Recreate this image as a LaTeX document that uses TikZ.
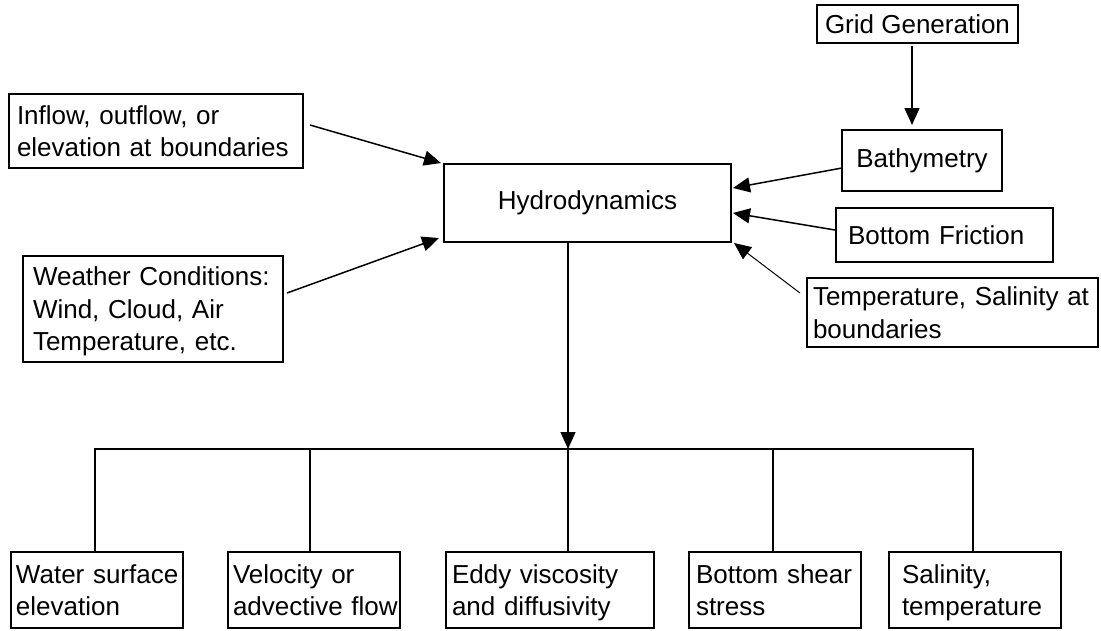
\documentclass[tikz,border=0pt]{standalone}
\usepackage{fontspec}
\setmainfont{Liberation Sans}
\usetikzlibrary{arrows.meta}
\begin{document}
\begin{tikzpicture}[x=1pt,y=-1pt,
  every node/.style={font=\fontsize{26}{32.5}\selectfont},
  box/.style={draw, line width=1.5pt, anchor=north west, inner ysep=0pt, outer sep=0pt},
  lbox/.style={box, align=left},
  cbox/.style={box, align=center, inner xsep=0pt},
  link/.style={line width=1.5pt},
  arr/.style={line width=1.5pt, -{Triangle[length=17pt,width=15pt]}},
  thinarr/.style={line width=1pt, -{Triangle[length=17pt,width=15pt]}}]
\fill[white] (0,0) rectangle (1101,630);
\useasboundingbox (0,0) rectangle (1101,630);

% top input boxes
\node[cbox, minimum width=201pt, minimum height=38pt] (grid) at (817,5) {Grid Generation};
\node[cbox, minimum width=160pt, minimum height=61pt] (bathy) at (842,130) {Bathymetry};
\node[lbox, inner xsep=12pt, text width=193pt, minimum width=217pt, minimum height=54pt] (fric) at (836,208) {Bottom Friction};
\node[lbox, inner xsep=6pt, text width=279pt, minimum width=291pt, minimum height=69pt] (temp) at (807,278) {\mbox{Temperature, Salinity at}\\boundaries};
\node[lbox, inner xsep=8pt, text width=278pt, minimum width=294pt, minimum height=74pt] (inflow) at (9,94) {Inflow, outflow, or\\\mbox{elevation at boundaries}};
\node[lbox, inner xsep=10pt, text width=240pt, minimum width=260pt, minimum height=106pt] (weather) at (23,256) {\mbox{Weather Conditions:}\\Wind, Cloud, Air\\\smash{Temperature, etc.}};

% central box
\node[cbox, minimum width=287pt, minimum height=78pt] (hydro) at (444,164) {Hydrodynamics};

% output boxes
\node[lbox, inner xsep=5pt, text width=162pt, minimum width=172pt, minimum height=76pt] (wse) at (11,552) {\mbox{Water surface}\\elevation};
\node[lbox, inner xsep=5pt, text width=162pt, minimum width=172pt, minimum height=76pt] (vel) at (228,552) {Velocity or\\\mbox{advective flow}};
\node[lbox, inner xsep=6pt, text width=196pt, minimum width=208pt, minimum height=76pt] (eddy) at (446,552) {Eddy viscosity\\\smash{and diffusivity}};
\node[lbox, inner xsep=7pt, text width=158pt, minimum width=172pt, minimum height=76pt] (bss) at (689,552) {\mbox{Bottom shear}\\stress};
\node[lbox, inner xsep=13pt, text width=146pt, minimum width=172pt, minimum height=76pt] (sal) at (889,552) {Salinity,\\\smash{temperature}};

% input arrows
\draw[arr] ([shift={(7pt,6pt)}]inflow.east) -- ([shift={(-3pt,1pt)}]hydro.north west);
\draw[arr] ([shift={(4pt,16pt)}]weather.east) -- ([shift={(-5pt,4pt)}]hydro.south west);
\draw[arr] ([shift={(-5.5pt,-3pt)}]grid.south) -- ([shift={(-10pt,5pt)}]bathy.north);
\draw[arr] ([yshift=-7.5pt]bathy.west) -- ([shift={(2pt,15pt)}]hydro.east);
\draw[arr] ([shift={(-1pt,5pt)}]fric.west) -- ([shift={(2pt,-10pt)}]hydro.east);
\draw[thinarr] ([shift={(-7pt,19.5pt)}]temp.west) -- ([shift={(3pt,-1pt)}]hydro.south east);

% output distribution
\coordinate (j) at (568,449);
\draw[arr] (hydro.south -| j) -- (j);
\draw[link] ([xshift=-2pt]wse.north) |- ([xshift=-2pt]sal.north |- j) -- ([xshift=-2pt]sal.north);
\draw[link] ([xshift=-4pt]vel.north) -- ([xshift=-4pt]vel.north |- j);
\draw[link] (j) -- (j |- eddy.north);
\draw[link] ([xshift=-2pt]bss.north) -- ([xshift=-2pt]bss.north |- j);
\end{tikzpicture}
\end{document}
